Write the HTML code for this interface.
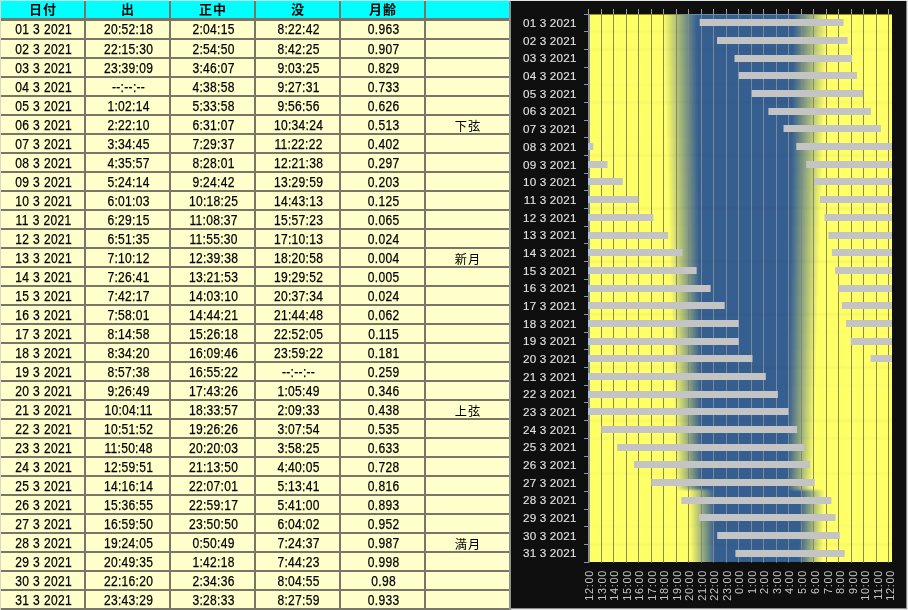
<!DOCTYPE html>
<html lang="ja"><head><meta charset="utf-8"><title>月の出入り 2021年3月</title>
<style>html,body{margin:0;padding:0}
body{width:908px;height:610px;overflow:hidden;background:#e4e4e4;position:relative;font-family:"Liberation Sans","Noto Sans CJK JP",sans-serif}
#tbl{position:absolute;left:0;top:0;width:511px;height:610px;background:#777668;overflow:hidden}
#tbl .bt{position:absolute;left:0;top:0;width:511px;height:1px;background:#c9e4e4}
#tbl .bl{position:absolute;left:0;top:0;width:1px;height:610px;background:#d8d8c4}
#tbl .br{position:absolute;left:509px;top:1px;width:2px;height:609px;background:#8f8f8f}
.hc{position:absolute;top:1px;width:83px;height:17px;background:#00ffff}
.bc{position:absolute;top:21px;width:83px;height:589px;background:repeating-linear-gradient(to bottom,#ffffcc 0,#ffffcc 17px,#777668 17px,#777668 19px)}
.r{position:absolute;left:0;width:594.186px;height:17px;transform:scaleX(0.86);transform-origin:0 0}
.r span{position:absolute;top:0;width:96.512px;height:17px;color:#000;text-align:center;font-size:14px;line-height:17px;white-space:nowrap;word-spacing:0.35px;letter-spacing:0.35px;-webkit-text-stroke:0.25px #000}
.nt{position:absolute;left:426px;width:83px;height:17px;color:#000;text-align:center;font-family:"Noto Sans CJK JP","Liberation Sans",sans-serif;font-size:12.2px;line-height:17px;letter-spacing:1px;text-indent:1px;white-space:nowrap}
.h{position:absolute;left:0;top:0.3px;width:511px;height:18px}
.h span{position:absolute;top:0;width:83px;height:18px;color:#000;text-align:center;font-family:"Noto Sans CJK JP","Liberation Sans",sans-serif;font-weight:bold;font-size:13px;line-height:18px;letter-spacing:1px;text-indent:1px;white-space:nowrap}
.c0{left:1px}.c1{left:86px}.c2{left:171px}.c3{left:256px}.c4{left:341px}.c5{left:426px}
.r .c0{left:2.442px}.r .c1{left:101.279px}.r .c2{left:200.116px}.r .c3{left:298.953px}.r .c4{left:397.791px}.r .c5{left:496.628px}
#ch{position:absolute;left:0;top:0;width:908px;height:610px}
#ch text{font-family:"Liberation Sans",sans-serif;font-size:11.7px;fill:#e0e0e0;stroke:#e0e0e0;stroke-width:0.12px;letter-spacing:0.3px}
#ch .xl text{fill:#c6c6c6;stroke:none;letter-spacing:0.75px}
</style></head><body>
<div id="tbl"><div class="hc c0"></div><div class="bc c0"></div><div class="hc c1"></div><div class="bc c1"></div><div class="hc c2"></div><div class="bc c2"></div><div class="hc c3"></div><div class="bc c3"></div><div class="hc c4"></div><div class="bc c4"></div><div class="hc c5"></div><div class="bc c5"></div>
<div class="h"><span class="c0">日付</span><span class="c1">出</span><span class="c2">正中</span><span class="c3">没</span><span class="c4">月齢</span></div>
<div class="r" style="top:21px"><span class="c0">01 3 2021</span><span class="c1">20:52:18</span><span class="c2">2:04:15</span><span class="c3">8:22:42</span><span class="c4">0.963</span></div>
<div class="r" style="top:41px"><span class="c0">02 3 2021</span><span class="c1">22:15:30</span><span class="c2">2:54:50</span><span class="c3">8:42:25</span><span class="c4">0.907</span></div>
<div class="r" style="top:60px"><span class="c0">03 3 2021</span><span class="c1">23:39:09</span><span class="c2">3:46:07</span><span class="c3">9:03:25</span><span class="c4">0.829</span></div>
<div class="r" style="top:79px"><span class="c0">04 3 2021</span><span class="c1">--:--:--</span><span class="c2">4:38:58</span><span class="c3">9:27:31</span><span class="c4">0.733</span></div>
<div class="r" style="top:98px"><span class="c0">05 3 2021</span><span class="c1">1:02:14</span><span class="c2">5:33:58</span><span class="c3">9:56:56</span><span class="c4">0.626</span></div>
<div class="r" style="top:117px"><span class="c0">06 3 2021</span><span class="c1">2:22:10</span><span class="c2">6:31:07</span><span class="c3">10:34:24</span><span class="c4">0.513</span></div>
<div class="nt" style="top:118px">下弦</div>
<div class="r" style="top:136px"><span class="c0">07 3 2021</span><span class="c1">3:34:45</span><span class="c2">7:29:37</span><span class="c3">11:22:22</span><span class="c4">0.402</span></div>
<div class="r" style="top:155px"><span class="c0">08 3 2021</span><span class="c1">4:35:57</span><span class="c2">8:28:01</span><span class="c3">12:21:38</span><span class="c4">0.297</span></div>
<div class="r" style="top:174px"><span class="c0">09 3 2021</span><span class="c1">5:24:14</span><span class="c2">9:24:42</span><span class="c3">13:29:59</span><span class="c4">0.203</span></div>
<div class="r" style="top:193px"><span class="c0">10 3 2021</span><span class="c1">6:01:03</span><span class="c2">10:18:25</span><span class="c3">14:43:13</span><span class="c4">0.125</span></div>
<div class="r" style="top:212px"><span class="c0">11 3 2021</span><span class="c1">6:29:15</span><span class="c2">11:08:37</span><span class="c3">15:57:23</span><span class="c4">0.065</span></div>
<div class="r" style="top:231px"><span class="c0">12 3 2021</span><span class="c1">6:51:35</span><span class="c2">11:55:30</span><span class="c3">17:10:13</span><span class="c4">0.024</span></div>
<div class="r" style="top:250px"><span class="c0">13 3 2021</span><span class="c1">7:10:12</span><span class="c2">12:39:38</span><span class="c3">18:20:58</span><span class="c4">0.004</span></div>
<div class="nt" style="top:251px">新月</div>
<div class="r" style="top:269px"><span class="c0">14 3 2021</span><span class="c1">7:26:41</span><span class="c2">13:21:53</span><span class="c3">19:29:52</span><span class="c4">0.005</span></div>
<div class="r" style="top:288px"><span class="c0">15 3 2021</span><span class="c1">7:42:17</span><span class="c2">14:03:10</span><span class="c3">20:37:34</span><span class="c4">0.024</span></div>
<div class="r" style="top:307px"><span class="c0">16 3 2021</span><span class="c1">7:58:01</span><span class="c2">14:44:21</span><span class="c3">21:44:48</span><span class="c4">0.062</span></div>
<div class="r" style="top:326px"><span class="c0">17 3 2021</span><span class="c1">8:14:58</span><span class="c2">15:26:18</span><span class="c3">22:52:05</span><span class="c4">0.115</span></div>
<div class="r" style="top:345px"><span class="c0">18 3 2021</span><span class="c1">8:34:20</span><span class="c2">16:09:46</span><span class="c3">23:59:22</span><span class="c4">0.181</span></div>
<div class="r" style="top:364px"><span class="c0">19 3 2021</span><span class="c1">8:57:38</span><span class="c2">16:55:22</span><span class="c3">--:--:--</span><span class="c4">0.259</span></div>
<div class="r" style="top:383px"><span class="c0">20 3 2021</span><span class="c1">9:26:49</span><span class="c2">17:43:26</span><span class="c3">1:05:49</span><span class="c4">0.346</span></div>
<div class="r" style="top:402px"><span class="c0">21 3 2021</span><span class="c1">10:04:11</span><span class="c2">18:33:57</span><span class="c3">2:09:33</span><span class="c4">0.438</span></div>
<div class="nt" style="top:403px">上弦</div>
<div class="r" style="top:421px"><span class="c0">22 3 2021</span><span class="c1">10:51:52</span><span class="c2">19:26:26</span><span class="c3">3:07:54</span><span class="c4">0.535</span></div>
<div class="r" style="top:440px"><span class="c0">23 3 2021</span><span class="c1">11:50:48</span><span class="c2">20:20:03</span><span class="c3">3:58:25</span><span class="c4">0.633</span></div>
<div class="r" style="top:459px"><span class="c0">24 3 2021</span><span class="c1">12:59:51</span><span class="c2">21:13:50</span><span class="c3">4:40:05</span><span class="c4">0.728</span></div>
<div class="r" style="top:478px"><span class="c0">25 3 2021</span><span class="c1">14:16:14</span><span class="c2">22:07:01</span><span class="c3">5:13:41</span><span class="c4">0.816</span></div>
<div class="r" style="top:497px"><span class="c0">26 3 2021</span><span class="c1">15:36:55</span><span class="c2">22:59:17</span><span class="c3">5:41:00</span><span class="c4">0.893</span></div>
<div class="r" style="top:516px"><span class="c0">27 3 2021</span><span class="c1">16:59:50</span><span class="c2">23:50:50</span><span class="c3">6:04:02</span><span class="c4">0.952</span></div>
<div class="r" style="top:535px"><span class="c0">28 3 2021</span><span class="c1">19:24:05</span><span class="c2">0:50:49</span><span class="c3">7:24:37</span><span class="c4">0.987</span></div>
<div class="nt" style="top:536px">満月</div>
<div class="r" style="top:554px"><span class="c0">29 3 2021</span><span class="c1">20:49:35</span><span class="c2">1:42:18</span><span class="c3">7:44:23</span><span class="c4">0.998</span></div>
<div class="r" style="top:573px"><span class="c0">30 3 2021</span><span class="c1">22:16:20</span><span class="c2">2:34:36</span><span class="c3">8:04:55</span><span class="c4">0.98</span></div>
<div class="r" style="top:592px"><span class="c0">31 3 2021</span><span class="c1">23:43:29</span><span class="c2">3:28:33</span><span class="c3">8:27:59</span><span class="c4">0.933</span></div>
<div class="bt"></div><div class="bl"></div><div class="br"></div></div>
<svg id="ch" width="908" height="610" viewBox="0 0 908 610">
<defs>
<linearGradient id="g0" gradientUnits="userSpaceOnUse" x1="589" y1="0" x2="893" y2="0"><stop offset="0.2443" stop-color="#ffff66"/><stop offset="0.3550" stop-color="#365f91"/><stop offset="0.6714" stop-color="#365f91"/><stop offset="0.7837" stop-color="#ffff66"/></linearGradient>
<linearGradient id="g1" gradientUnits="userSpaceOnUse" x1="589" y1="0" x2="893" y2="0"><stop offset="0.2459" stop-color="#ffff66"/><stop offset="0.3556" stop-color="#365f91"/><stop offset="0.6707" stop-color="#365f91"/><stop offset="0.7819" stop-color="#ffff66"/></linearGradient>
<linearGradient id="g2" gradientUnits="userSpaceOnUse" x1="589" y1="0" x2="893" y2="0"><stop offset="0.2475" stop-color="#ffff66"/><stop offset="0.3562" stop-color="#365f91"/><stop offset="0.6699" stop-color="#365f91"/><stop offset="0.7801" stop-color="#ffff66"/></linearGradient>
<linearGradient id="g3" gradientUnits="userSpaceOnUse" x1="589" y1="0" x2="893" y2="0"><stop offset="0.2491" stop-color="#ffff66"/><stop offset="0.3568" stop-color="#365f91"/><stop offset="0.6692" stop-color="#365f91"/><stop offset="0.7782" stop-color="#ffff66"/></linearGradient>
<linearGradient id="g4" gradientUnits="userSpaceOnUse" x1="589" y1="0" x2="893" y2="0"><stop offset="0.2507" stop-color="#ffff66"/><stop offset="0.3574" stop-color="#365f91"/><stop offset="0.6685" stop-color="#365f91"/><stop offset="0.7764" stop-color="#ffff66"/></linearGradient>
<linearGradient id="g5" gradientUnits="userSpaceOnUse" x1="589" y1="0" x2="893" y2="0"><stop offset="0.2522" stop-color="#ffff66"/><stop offset="0.3580" stop-color="#365f91"/><stop offset="0.6678" stop-color="#365f91"/><stop offset="0.7745" stop-color="#ffff66"/></linearGradient>
<linearGradient id="g6" gradientUnits="userSpaceOnUse" x1="589" y1="0" x2="893" y2="0"><stop offset="0.2538" stop-color="#ffff66"/><stop offset="0.3585" stop-color="#365f91"/><stop offset="0.6670" stop-color="#365f91"/><stop offset="0.7727" stop-color="#ffff66"/></linearGradient>
<linearGradient id="g7" gradientUnits="userSpaceOnUse" x1="589" y1="0" x2="893" y2="0"><stop offset="0.2554" stop-color="#ffff66"/><stop offset="0.3591" stop-color="#365f91"/><stop offset="0.6663" stop-color="#365f91"/><stop offset="0.7709" stop-color="#ffff66"/></linearGradient>
<linearGradient id="g8" gradientUnits="userSpaceOnUse" x1="589" y1="0" x2="893" y2="0"><stop offset="0.2570" stop-color="#ffff66"/><stop offset="0.3597" stop-color="#365f91"/><stop offset="0.6656" stop-color="#365f91"/><stop offset="0.7690" stop-color="#ffff66"/></linearGradient>
<linearGradient id="g9" gradientUnits="userSpaceOnUse" x1="589" y1="0" x2="893" y2="0"><stop offset="0.2585" stop-color="#ffff66"/><stop offset="0.3603" stop-color="#365f91"/><stop offset="0.6649" stop-color="#365f91"/><stop offset="0.7672" stop-color="#ffff66"/></linearGradient>
<linearGradient id="g10" gradientUnits="userSpaceOnUse" x1="589" y1="0" x2="893" y2="0"><stop offset="0.2601" stop-color="#ffff66"/><stop offset="0.3609" stop-color="#365f91"/><stop offset="0.6641" stop-color="#365f91"/><stop offset="0.7653" stop-color="#ffff66"/></linearGradient>
<linearGradient id="g11" gradientUnits="userSpaceOnUse" x1="589" y1="0" x2="893" y2="0"><stop offset="0.2617" stop-color="#ffff66"/><stop offset="0.3615" stop-color="#365f91"/><stop offset="0.6634" stop-color="#365f91"/><stop offset="0.7635" stop-color="#ffff66"/></linearGradient>
<linearGradient id="g12" gradientUnits="userSpaceOnUse" x1="589" y1="0" x2="893" y2="0"><stop offset="0.2633" stop-color="#ffff66"/><stop offset="0.3621" stop-color="#365f91"/><stop offset="0.6627" stop-color="#365f91"/><stop offset="0.7616" stop-color="#ffff66"/></linearGradient>
<linearGradient id="g13" gradientUnits="userSpaceOnUse" x1="589" y1="0" x2="893" y2="0"><stop offset="0.2649" stop-color="#ffff66"/><stop offset="0.3627" stop-color="#365f91"/><stop offset="0.6620" stop-color="#365f91"/><stop offset="0.7598" stop-color="#ffff66"/></linearGradient>
<linearGradient id="g14" gradientUnits="userSpaceOnUse" x1="589" y1="0" x2="893" y2="0"><stop offset="0.2664" stop-color="#ffff66"/><stop offset="0.3633" stop-color="#365f91"/><stop offset="0.6613" stop-color="#365f91"/><stop offset="0.7580" stop-color="#ffff66"/></linearGradient>
<linearGradient id="g15" gradientUnits="userSpaceOnUse" x1="589" y1="0" x2="893" y2="0"><stop offset="0.2680" stop-color="#ffff66"/><stop offset="0.3639" stop-color="#365f91"/><stop offset="0.6605" stop-color="#365f91"/><stop offset="0.7561" stop-color="#ffff66"/></linearGradient>
<linearGradient id="g16" gradientUnits="userSpaceOnUse" x1="589" y1="0" x2="893" y2="0"><stop offset="0.2696" stop-color="#ffff66"/><stop offset="0.3645" stop-color="#365f91"/><stop offset="0.6598" stop-color="#365f91"/><stop offset="0.7543" stop-color="#ffff66"/></linearGradient>
<linearGradient id="g17" gradientUnits="userSpaceOnUse" x1="589" y1="0" x2="893" y2="0"><stop offset="0.2712" stop-color="#ffff66"/><stop offset="0.3651" stop-color="#365f91"/><stop offset="0.6591" stop-color="#365f91"/><stop offset="0.7524" stop-color="#ffff66"/></linearGradient>
<linearGradient id="g18" gradientUnits="userSpaceOnUse" x1="589" y1="0" x2="893" y2="0"><stop offset="0.2728" stop-color="#ffff66"/><stop offset="0.3656" stop-color="#365f91"/><stop offset="0.6584" stop-color="#365f91"/><stop offset="0.7506" stop-color="#ffff66"/></linearGradient>
<linearGradient id="g19" gradientUnits="userSpaceOnUse" x1="589" y1="0" x2="893" y2="0"><stop offset="0.2743" stop-color="#ffff66"/><stop offset="0.3662" stop-color="#365f91"/><stop offset="0.6576" stop-color="#365f91"/><stop offset="0.7487" stop-color="#ffff66"/></linearGradient>
<linearGradient id="g20" gradientUnits="userSpaceOnUse" x1="589" y1="0" x2="893" y2="0"><stop offset="0.2759" stop-color="#ffff66"/><stop offset="0.3668" stop-color="#365f91"/><stop offset="0.6569" stop-color="#365f91"/><stop offset="0.7469" stop-color="#ffff66"/></linearGradient>
<linearGradient id="g21" gradientUnits="userSpaceOnUse" x1="589" y1="0" x2="893" y2="0"><stop offset="0.2775" stop-color="#ffff66"/><stop offset="0.3674" stop-color="#365f91"/><stop offset="0.6562" stop-color="#365f91"/><stop offset="0.7451" stop-color="#ffff66"/></linearGradient>
<linearGradient id="g22" gradientUnits="userSpaceOnUse" x1="589" y1="0" x2="893" y2="0"><stop offset="0.2791" stop-color="#ffff66"/><stop offset="0.3680" stop-color="#365f91"/><stop offset="0.6555" stop-color="#365f91"/><stop offset="0.7432" stop-color="#ffff66"/></linearGradient>
<linearGradient id="g23" gradientUnits="userSpaceOnUse" x1="589" y1="0" x2="893" y2="0"><stop offset="0.2807" stop-color="#ffff66"/><stop offset="0.3686" stop-color="#365f91"/><stop offset="0.6547" stop-color="#365f91"/><stop offset="0.7414" stop-color="#ffff66"/></linearGradient>
<linearGradient id="g24" gradientUnits="userSpaceOnUse" x1="589" y1="0" x2="893" y2="0"><stop offset="0.2822" stop-color="#ffff66"/><stop offset="0.3692" stop-color="#365f91"/><stop offset="0.6540" stop-color="#365f91"/><stop offset="0.7395" stop-color="#ffff66"/></linearGradient>
<linearGradient id="g25" gradientUnits="userSpaceOnUse" x1="589" y1="0" x2="893" y2="0"><stop offset="0.2838" stop-color="#ffff66"/><stop offset="0.3698" stop-color="#365f91"/><stop offset="0.6533" stop-color="#365f91"/><stop offset="0.7377" stop-color="#ffff66"/></linearGradient>
<linearGradient id="g26" gradientUnits="userSpaceOnUse" x1="589" y1="0" x2="893" y2="0"><stop offset="0.2854" stop-color="#ffff66"/><stop offset="0.3704" stop-color="#365f91"/><stop offset="0.6526" stop-color="#365f91"/><stop offset="0.7359" stop-color="#ffff66"/></linearGradient>
<linearGradient id="g27" gradientUnits="userSpaceOnUse" x1="589" y1="0" x2="893" y2="0"><stop offset="0.3281" stop-color="#ffff66"/><stop offset="0.4121" stop-color="#365f91"/><stop offset="0.6930" stop-color="#365f91"/><stop offset="0.7751" stop-color="#ffff66"/></linearGradient>
<linearGradient id="g28" gradientUnits="userSpaceOnUse" x1="589" y1="0" x2="893" y2="0"><stop offset="0.3297" stop-color="#ffff66"/><stop offset="0.4127" stop-color="#365f91"/><stop offset="0.6922" stop-color="#365f91"/><stop offset="0.7733" stop-color="#ffff66"/></linearGradient>
<linearGradient id="g29" gradientUnits="userSpaceOnUse" x1="589" y1="0" x2="893" y2="0"><stop offset="0.3312" stop-color="#ffff66"/><stop offset="0.4133" stop-color="#365f91"/><stop offset="0.6915" stop-color="#365f91"/><stop offset="0.7714" stop-color="#ffff66"/></linearGradient>
<linearGradient id="g30" gradientUnits="userSpaceOnUse" x1="589" y1="0" x2="893" y2="0"><stop offset="0.3328" stop-color="#ffff66"/><stop offset="0.4139" stop-color="#365f91"/><stop offset="0.6908" stop-color="#365f91"/><stop offset="0.7696" stop-color="#ffff66"/></linearGradient>
<clipPath id="pc"><rect x="589" y="14" width="303" height="548.08"/></clipPath>
<filter id="vb" x="0" y="-0.05" width="1" height="1.1" filterUnits="objectBoundingBox"><feGaussianBlur stdDeviation="0 1.3"/></filter>
</defs>
<rect x="511" y="1" width="395" height="607" fill="#0f0f0f"/>
<rect x="906" y="1" width="1" height="608" fill="#8a8a8a"/><rect x="511" y="608" width="396" height="1" fill="#8a8a8a"/>
<g clip-path="url(#pc)"><g filter="url(#vb)"><rect x="560" y="-16.00" width="360" height="47.88" fill="url(#g0)"/><rect x="560" y="31.48" width="360" height="18.08" fill="url(#g1)"/><rect x="560" y="49.16" width="360" height="18.08" fill="url(#g2)"/><rect x="560" y="66.84" width="360" height="18.08" fill="url(#g3)"/><rect x="560" y="84.52" width="360" height="18.08" fill="url(#g4)"/><rect x="560" y="102.20" width="360" height="18.08" fill="url(#g5)"/><rect x="560" y="119.88" width="360" height="18.08" fill="url(#g6)"/><rect x="560" y="137.56" width="360" height="18.08" fill="url(#g7)"/><rect x="560" y="155.24" width="360" height="18.08" fill="url(#g8)"/><rect x="560" y="172.92" width="360" height="18.08" fill="url(#g9)"/><rect x="560" y="190.60" width="360" height="18.08" fill="url(#g10)"/><rect x="560" y="208.28" width="360" height="18.08" fill="url(#g11)"/><rect x="560" y="225.96" width="360" height="18.08" fill="url(#g12)"/><rect x="560" y="243.64" width="360" height="18.08" fill="url(#g13)"/><rect x="560" y="261.32" width="360" height="18.08" fill="url(#g14)"/><rect x="560" y="279.00" width="360" height="18.08" fill="url(#g15)"/><rect x="560" y="296.68" width="360" height="18.08" fill="url(#g16)"/><rect x="560" y="314.36" width="360" height="18.08" fill="url(#g17)"/><rect x="560" y="332.04" width="360" height="18.08" fill="url(#g18)"/><rect x="560" y="349.72" width="360" height="18.08" fill="url(#g19)"/><rect x="560" y="367.40" width="360" height="18.08" fill="url(#g20)"/><rect x="560" y="385.08" width="360" height="18.08" fill="url(#g21)"/><rect x="560" y="402.76" width="360" height="18.08" fill="url(#g22)"/><rect x="560" y="420.44" width="360" height="18.08" fill="url(#g23)"/><rect x="560" y="438.12" width="360" height="18.08" fill="url(#g24)"/><rect x="560" y="455.80" width="360" height="18.08" fill="url(#g25)"/><rect x="560" y="473.48" width="360" height="16.78" fill="url(#g26)"/><rect x="560" y="489.86" width="360" height="19.38" fill="url(#g27)"/><rect x="560" y="508.84" width="360" height="18.08" fill="url(#g28)"/><rect x="560" y="526.52" width="360" height="18.08" fill="url(#g29)"/><rect x="560" y="544.20" width="360" height="47.88" fill="url(#g30)"/></g></g>
<g fill="#9c9c9c"><rect x="601" y="9" width="1" height="5"/><rect x="613" y="9" width="1" height="5"/><rect x="626" y="9" width="1" height="5"/><rect x="638" y="9" width="1" height="5"/><rect x="651" y="9" width="1" height="5"/><rect x="663" y="9" width="1" height="5"/><rect x="676" y="9" width="1" height="5"/><rect x="688" y="9" width="1" height="5"/><rect x="701" y="9" width="1" height="5"/><rect x="713" y="9" width="1" height="5"/><rect x="726" y="9" width="1" height="5"/><rect x="738" y="9" width="1" height="5"/><rect x="751" y="9" width="1" height="5"/><rect x="763" y="9" width="1" height="5"/><rect x="776" y="9" width="1" height="5"/><rect x="788" y="9" width="1" height="5"/><rect x="801" y="9" width="1" height="5"/><rect x="813" y="9" width="1" height="5"/><rect x="826" y="9" width="1" height="5"/><rect x="838" y="9" width="1" height="5"/><rect x="851" y="9" width="1" height="5"/><rect x="863" y="9" width="1" height="5"/><rect x="876" y="9" width="1" height="5"/><rect x="888" y="9" width="1" height="5"/></g>
<g fill="#808080" style="mix-blend-mode:saturation" opacity="0.25"><rect x="600" y="15" width="1" height="547"/><rect x="602" y="15" width="1" height="547"/><rect x="612" y="15" width="1" height="547"/><rect x="614" y="15" width="1" height="547"/><rect x="625" y="15" width="1" height="547"/><rect x="627" y="15" width="1" height="547"/><rect x="637" y="15" width="1" height="547"/><rect x="639" y="15" width="1" height="547"/><rect x="650" y="15" width="1" height="547"/><rect x="652" y="15" width="1" height="547"/><rect x="662" y="15" width="1" height="547"/><rect x="664" y="15" width="1" height="547"/><rect x="675" y="15" width="1" height="547"/><rect x="677" y="15" width="1" height="547"/><rect x="687" y="15" width="1" height="547"/><rect x="689" y="15" width="1" height="547"/><rect x="700" y="15" width="1" height="547"/><rect x="702" y="15" width="1" height="547"/><rect x="712" y="15" width="1" height="547"/><rect x="714" y="15" width="1" height="547"/><rect x="725" y="15" width="1" height="547"/><rect x="727" y="15" width="1" height="547"/><rect x="737" y="15" width="1" height="547"/><rect x="739" y="15" width="1" height="547"/><rect x="750" y="15" width="1" height="547"/><rect x="752" y="15" width="1" height="547"/><rect x="762" y="15" width="1" height="547"/><rect x="764" y="15" width="1" height="547"/><rect x="775" y="15" width="1" height="547"/><rect x="777" y="15" width="1" height="547"/><rect x="787" y="15" width="1" height="547"/><rect x="789" y="15" width="1" height="547"/><rect x="800" y="15" width="1" height="547"/><rect x="802" y="15" width="1" height="547"/><rect x="812" y="15" width="1" height="547"/><rect x="814" y="15" width="1" height="547"/><rect x="825" y="15" width="1" height="547"/><rect x="827" y="15" width="1" height="547"/><rect x="837" y="15" width="1" height="547"/><rect x="839" y="15" width="1" height="547"/><rect x="850" y="15" width="1" height="547"/><rect x="852" y="15" width="1" height="547"/><rect x="862" y="15" width="1" height="547"/><rect x="864" y="15" width="1" height="547"/><rect x="875" y="15" width="1" height="547"/><rect x="877" y="15" width="1" height="547"/><rect x="887" y="15" width="1" height="547"/><rect x="889" y="15" width="1" height="547"/></g>
<g fill="#868686" style="mix-blend-mode:luminosity"><rect x="601" y="14" width="1" height="548.5"/><rect x="613" y="14" width="1" height="548.5"/><rect x="626" y="14" width="1" height="548.5"/><rect x="638" y="14" width="1" height="548.5"/><rect x="651" y="14" width="1" height="548.5"/><rect x="663" y="14" width="1" height="548.5"/><rect x="676" y="14" width="1" height="548.5"/><rect x="688" y="14" width="1" height="548.5"/><rect x="701" y="14" width="1" height="548.5"/><rect x="713" y="14" width="1" height="548.5"/><rect x="726" y="14" width="1" height="548.5"/><rect x="738" y="14" width="1" height="548.5"/><rect x="751" y="14" width="1" height="548.5"/><rect x="763" y="14" width="1" height="548.5"/><rect x="776" y="14" width="1" height="548.5"/><rect x="788" y="14" width="1" height="548.5"/><rect x="801" y="14" width="1" height="548.5"/><rect x="813" y="14" width="1" height="548.5"/><rect x="826" y="14" width="1" height="548.5"/><rect x="838" y="14" width="1" height="548.5"/><rect x="851" y="14" width="1" height="548.5"/><rect x="863" y="14" width="1" height="548.5"/><rect x="876" y="14" width="1" height="548.5"/><rect x="888" y="14" width="1" height="548.5"/><rect x="589" y="14" width="303" height="1"/></g>
<g fill="#868686" opacity="0.25"><rect x="601" y="14" width="1" height="548.5"/><rect x="613" y="14" width="1" height="548.5"/><rect x="626" y="14" width="1" height="548.5"/><rect x="638" y="14" width="1" height="548.5"/><rect x="651" y="14" width="1" height="548.5"/><rect x="663" y="14" width="1" height="548.5"/><rect x="676" y="14" width="1" height="548.5"/><rect x="688" y="14" width="1" height="548.5"/><rect x="701" y="14" width="1" height="548.5"/><rect x="713" y="14" width="1" height="548.5"/><rect x="726" y="14" width="1" height="548.5"/><rect x="738" y="14" width="1" height="548.5"/><rect x="751" y="14" width="1" height="548.5"/><rect x="763" y="14" width="1" height="548.5"/><rect x="776" y="14" width="1" height="548.5"/><rect x="788" y="14" width="1" height="548.5"/><rect x="801" y="14" width="1" height="548.5"/><rect x="813" y="14" width="1" height="548.5"/><rect x="826" y="14" width="1" height="548.5"/><rect x="838" y="14" width="1" height="548.5"/><rect x="851" y="14" width="1" height="548.5"/><rect x="863" y="14" width="1" height="548.5"/><rect x="876" y="14" width="1" height="548.5"/><rect x="888" y="14" width="1" height="548.5"/><rect x="589" y="14" width="303" height="1"/></g>
<g fill="#8394c4"><rect x="584" y="14" width="5" height="1"/><rect x="584" y="31" width="5" height="1"/><rect x="584" y="49" width="5" height="1"/><rect x="584" y="67" width="5" height="1"/><rect x="584" y="84" width="5" height="1"/><rect x="584" y="102" width="5" height="1"/><rect x="584" y="120" width="5" height="1"/><rect x="584" y="137" width="5" height="1"/><rect x="584" y="155" width="5" height="1"/><rect x="584" y="173" width="5" height="1"/><rect x="584" y="190" width="5" height="1"/><rect x="584" y="208" width="5" height="1"/><rect x="584" y="226" width="5" height="1"/><rect x="584" y="243" width="5" height="1"/><rect x="584" y="261" width="5" height="1"/><rect x="584" y="279" width="5" height="1"/><rect x="584" y="296" width="5" height="1"/><rect x="584" y="314" width="5" height="1"/><rect x="584" y="332" width="5" height="1"/><rect x="584" y="349" width="5" height="1"/><rect x="584" y="367" width="5" height="1"/><rect x="584" y="385" width="5" height="1"/><rect x="584" y="402" width="5" height="1"/><rect x="584" y="420" width="5" height="1"/><rect x="584" y="438" width="5" height="1"/><rect x="584" y="456" width="5" height="1"/><rect x="584" y="473" width="5" height="1"/><rect x="584" y="491" width="5" height="1"/><rect x="584" y="509" width="5" height="1"/><rect x="584" y="526" width="5" height="1"/><rect x="584" y="544" width="5" height="1"/><rect x="584" y="562" width="5" height="1"/></g>
<g fill="#c4c4c4"><rect x="699.7" y="19" width="143.8" height="7"/><rect x="717.0" y="37" width="130.6" height="7"/><rect x="734.5" y="55" width="117.6" height="7"/><rect x="738.8" y="72" width="118.2" height="7"/><rect x="751.8" y="90" width="111.4" height="7"/><rect x="768.4" y="108" width="102.5" height="7"/><rect x="783.5" y="125" width="97.4" height="7"/><rect x="589.0" y="143" width="4.3" height="7"/><rect x="796.3" y="143" width="95.7" height="7"/><rect x="589.0" y="161" width="18.5" height="7"/><rect x="806.3" y="161" width="85.7" height="7"/><rect x="589.0" y="178" width="33.8" height="7"/><rect x="814.0" y="178" width="78.0" height="7"/><rect x="589.0" y="196" width="49.3" height="7"/><rect x="819.9" y="196" width="72.1" height="7"/><rect x="589.0" y="214" width="64.4" height="7"/><rect x="824.5" y="214" width="67.5" height="7"/><rect x="589.0" y="232" width="79.2" height="7"/><rect x="828.4" y="232" width="63.6" height="7"/><rect x="589.0" y="249" width="93.5" height="7"/><rect x="831.9" y="249" width="60.1" height="7"/><rect x="589.0" y="267" width="107.6" height="7"/><rect x="835.1" y="267" width="56.9" height="7"/><rect x="589.0" y="285" width="121.6" height="7"/><rect x="838.4" y="285" width="53.6" height="7"/><rect x="589.0" y="302" width="135.7" height="7"/><rect x="841.9" y="302" width="50.1" height="7"/><rect x="589.0" y="320" width="149.7" height="7"/><rect x="846.0" y="320" width="46.0" height="7"/><rect x="589.0" y="338" width="149.8" height="7"/><rect x="850.8" y="338" width="41.2" height="7"/><rect x="589.0" y="355" width="163.5" height="7"/><rect x="870.6" y="355" width="21.4" height="7"/><rect x="589.0" y="373" width="176.8" height="7"/><rect x="589.0" y="391" width="188.9" height="7"/><rect x="589.0" y="408" width="199.5" height="7"/><rect x="601.3" y="426" width="195.9" height="7"/><rect x="617.2" y="444" width="187.0" height="7"/><rect x="634.0" y="461" width="175.9" height="7"/><rect x="651.3" y="479" width="163.4" height="7"/><rect x="681.3" y="497" width="150.1" height="7"/><rect x="699.1" y="514" width="136.4" height="7"/><rect x="717.2" y="532" width="122.6" height="7"/><rect x="735.4" y="550" width="109.3" height="7"/></g>
<rect x="588" y="9" width="1" height="5" fill="#9c9c9c"/><rect x="588" y="14" width="2" height="548.5" fill="#868f8a"/>
<g fill="#a9c3e3"><rect x="588" y="143.0" width="2" height="7.0"/><rect x="588" y="161.0" width="2" height="7.0"/><rect x="588" y="178.0" width="2" height="7.0"/><rect x="588" y="196.0" width="2" height="7.0"/><rect x="588" y="214.0" width="2" height="7.0"/><rect x="588" y="232.0" width="2" height="7.0"/><rect x="588" y="249.0" width="2" height="7.0"/><rect x="588" y="267.0" width="2" height="7.0"/><rect x="588" y="285.0" width="2" height="7.0"/><rect x="588" y="302.0" width="2" height="7.0"/><rect x="588" y="320.0" width="2" height="7.0"/><rect x="588" y="338.0" width="2" height="7.0"/><rect x="588" y="355.0" width="2" height="7.0"/><rect x="588" y="373.0" width="2" height="7.0"/><rect x="588" y="391.0" width="2" height="7.0"/><rect x="588" y="408.0" width="2" height="7.0"/></g>
<g text-anchor="end" style="word-spacing:-0.4px"><text x="576.9" y="27.0">01 3 2021</text><text x="576.9" y="44.7">02 3 2021</text><text x="576.9" y="62.4">03 3 2021</text><text x="576.9" y="80.1">04 3 2021</text><text x="576.9" y="97.8">05 3 2021</text><text x="576.9" y="115.4">06 3 2021</text><text x="576.9" y="133.1">07 3 2021</text><text x="576.9" y="150.8">08 3 2021</text><text x="576.9" y="168.5">09 3 2021</text><text x="576.9" y="186.2">10 3 2021</text><text x="576.9" y="203.8">11 3 2021</text><text x="576.9" y="221.5">12 3 2021</text><text x="576.9" y="239.2">13 3 2021</text><text x="576.9" y="256.9">14 3 2021</text><text x="576.9" y="274.6">15 3 2021</text><text x="576.9" y="292.2">16 3 2021</text><text x="576.9" y="309.9">17 3 2021</text><text x="576.9" y="327.6">18 3 2021</text><text x="576.9" y="345.3">19 3 2021</text><text x="576.9" y="363.0">20 3 2021</text><text x="576.9" y="380.6">21 3 2021</text><text x="576.9" y="398.3">22 3 2021</text><text x="576.9" y="416.0">23 3 2021</text><text x="576.9" y="433.7">24 3 2021</text><text x="576.9" y="451.4">25 3 2021</text><text x="576.9" y="469.0">26 3 2021</text><text x="576.9" y="486.7">27 3 2021</text><text x="576.9" y="504.4">28 3 2021</text><text x="576.9" y="522.1">29 3 2021</text><text x="576.9" y="539.8">30 3 2021</text><text x="576.9" y="557.4">31 3 2021</text></g>
<g class="xl" text-anchor="end"><text transform="translate(592.7,570.0) rotate(-90) scale(0.93,1)">12:00</text><text transform="translate(605.7,570.0) rotate(-90) scale(0.93,1)">13:00</text><text transform="translate(617.8,570.0) rotate(-90) scale(0.93,1)">14:00</text><text transform="translate(630.8,570.0) rotate(-90) scale(0.93,1)">15:00</text><text transform="translate(642.9,570.0) rotate(-90) scale(0.93,1)">16:00</text><text transform="translate(655.9,570.0) rotate(-90) scale(0.93,1)">17:00</text><text transform="translate(668.0,570.0) rotate(-90) scale(0.93,1)">18:00</text><text transform="translate(681.0,570.0) rotate(-90) scale(0.93,1)">19:00</text><text transform="translate(693.0,570.0) rotate(-90) scale(0.93,1)">20:00</text><text transform="translate(706.1,570.0) rotate(-90) scale(0.93,1)">21:00</text><text transform="translate(718.1,570.0) rotate(-90) scale(0.93,1)">22:00</text><text transform="translate(731.2,570.0) rotate(-90) scale(0.93,1)">23:00</text><text transform="translate(743.2,570.0) rotate(-90) scale(0.93,1)">0:00</text><text transform="translate(756.2,570.0) rotate(-90) scale(0.93,1)">1:00</text><text transform="translate(768.3,570.0) rotate(-90) scale(0.93,1)">2:00</text><text transform="translate(781.3,570.0) rotate(-90) scale(0.93,1)">3:00</text><text transform="translate(793.4,570.0) rotate(-90) scale(0.93,1)">4:00</text><text transform="translate(806.4,570.0) rotate(-90) scale(0.93,1)">5:00</text><text transform="translate(818.5,570.0) rotate(-90) scale(0.93,1)">6:00</text><text transform="translate(831.5,570.0) rotate(-90) scale(0.93,1)">7:00</text><text transform="translate(843.5,570.0) rotate(-90) scale(0.93,1)">8:00</text><text transform="translate(856.6,570.0) rotate(-90) scale(0.93,1)">9:00</text><text transform="translate(868.6,570.0) rotate(-90) scale(0.93,1)">10:00</text><text transform="translate(881.7,570.0) rotate(-90) scale(0.93,1)">11:00</text><text transform="translate(893.7,570.0) rotate(-90) scale(0.93,1)">12:00</text></g>
</svg>
</body></html>
